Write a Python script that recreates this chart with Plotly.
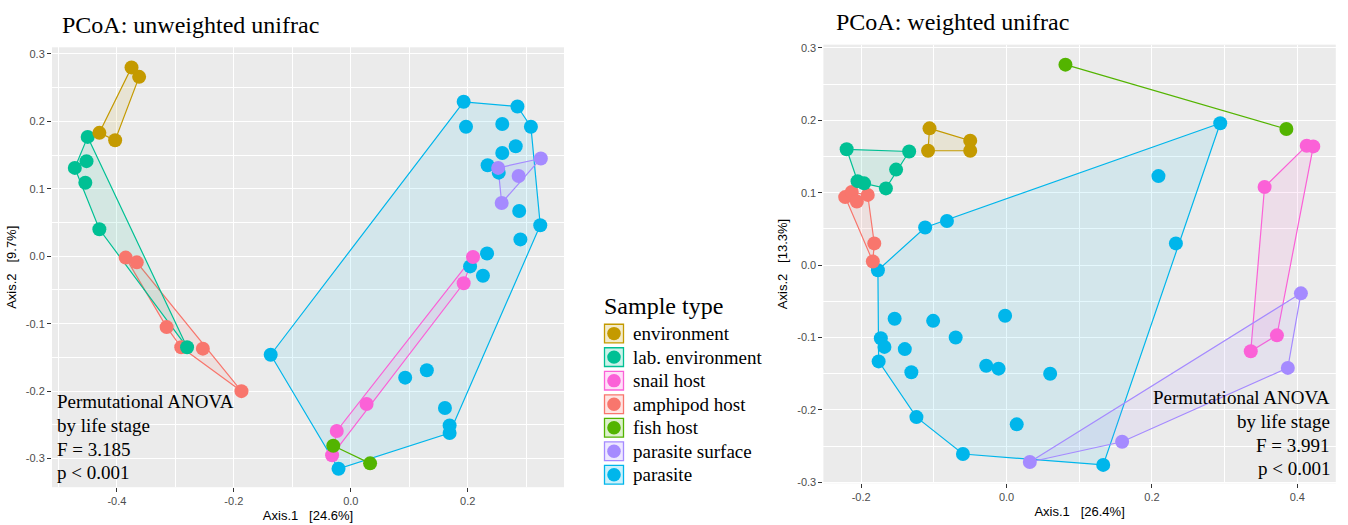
import plotly.graph_objects as go

W, H = 1348, 525

groups = ["environment", "lab. environment", "snail host", "amphipod host",
          "fish host", "parasite surface", "parasite"]
group_colors = ["#C49A00", "#00C094", "#FB61D7", "#F8766D", "#53B400", "#A58AFF", "#00B6EB"]

# ---------------- unweighted unifrac (left panel) ----------------
uw_env_x = [-0.375, -0.362, -0.430, -0.403]
uw_env_y = [0.280, 0.266, 0.183, 0.172]
uw_lab_x = [-0.450, -0.472, -0.452, -0.454, -0.430, -0.280]
uw_lab_y = [0.177, 0.131, 0.141, 0.109, 0.040, -0.135]
uw_snail_x = [0.209, 0.193, 0.027, -0.024, -0.032]
uw_snail_y = [-0.001, -0.040, -0.219, -0.259, -0.295]
uw_amph_x = [-0.385, -0.366, -0.315, -0.290, -0.253, -0.187]
uw_amph_y = [-0.002, -0.009, -0.105, -0.135, -0.137, -0.200]
uw_fish_x = [-0.030, 0.033]
uw_fish_y = [-0.281, -0.307]
uw_surf_x = [0.252, 0.325, 0.287, 0.258]
uw_surf_y = [0.131, 0.145, 0.119, 0.079]
uw_par_x = [0.193, 0.285, 0.197, 0.259, 0.308, 0.282, 0.259, 0.234, 0.253, 0.288,
            0.324, 0.290, 0.233, 0.204, 0.226, -0.137, 0.093, 0.130, 0.161, 0.169,
            0.169, -0.021]
uw_par_y = [0.229, 0.222, 0.192, 0.196, 0.192, 0.163, 0.153, 0.135, 0.124, 0.067,
            0.046, 0.025, 0.004, -0.015, -0.029, -0.146, -0.180, -0.169, -0.225, -0.251,
            -0.262, -0.315]

# ---------------- weighted unifrac (right panel) ----------------
w_env_x = [-0.106, -0.108, -0.050, -0.050]
w_env_y = [0.189, 0.158, 0.172, 0.158]
w_lab_x = [-0.220, -0.134, -0.152, -0.166, -0.205, -0.196]
w_lab_y = [0.160, 0.157, 0.132, 0.106, 0.116, 0.113]
w_snail_x = [0.413, 0.422, 0.355, 0.336, 0.372]
w_snail_y = [0.165, 0.164, 0.108, -0.119, -0.097]
w_amph_x = [-0.222, -0.213, -0.206, -0.191, -0.182, -0.184]
w_amph_y = [0.094, 0.101, 0.088, 0.097, 0.030, 0.005]
w_fish_x = [0.081, 0.385]
w_fish_y = [0.277, 0.188]
w_surf_x = [0.405, 0.387, 0.159, 0.032]
w_surf_y = [-0.039, -0.142, -0.244, -0.272]
w_par_x = [0.294, 0.209, -0.112, -0.082, 0.233, -0.177, -0.154, -0.101, -0.002, -0.070,
           -0.173, -0.168, -0.140, -0.176, -0.131, -0.028, -0.011, 0.060, -0.124, 0.014,
           -0.060, 0.133]
w_par_y = [0.196, 0.123, 0.052, 0.061, 0.030, -0.007, -0.074, -0.077, -0.070, -0.100,
           -0.101, -0.113, -0.116, -0.133, -0.148, -0.139, -0.143, -0.150, -0.210, -0.220,
           -0.261, -0.276]

uw_data = [(uw_env_x, uw_env_y), (uw_lab_x, uw_lab_y), (uw_snail_x, uw_snail_y),
           (uw_amph_x, uw_amph_y), (uw_fish_x, uw_fish_y), (uw_surf_x, uw_surf_y),
           (uw_par_x, uw_par_y)]
w_data = [(w_env_x, w_env_y), (w_lab_x, w_lab_y), (w_snail_x, w_snail_y),
          (w_amph_x, w_amph_y), (w_fish_x, w_fish_y), (w_surf_x, w_surf_y),
          (w_par_x, w_par_y)]

# axis ticks
uw_xticks = [-0.4, -0.2, 0.0, 0.2]
uw_xticktext = ["-0.4", "-0.2", "0.0", "0.2"]
w_xticks = [-0.2, 0.0, 0.2, 0.4]
w_xticktext = ["-0.2", "0.0", "0.2", "0.4"]
yticks = [-0.3, -0.2, -0.1, 0.0, 0.1, 0.2, 0.3]
yticktext = ["-0.3", "-0.2", "-0.1", "0.0", "0.1", "0.2", "0.3"]


def rgba(hexc, a):
    h = hexc.lstrip("#")
    return "rgba(%d,%d,%d,%s)" % (int(h[0:2], 16), int(h[2:4], 16), int(h[4:6], 16), a)


def convex_hull(xs, ys):
    pts = sorted(set(zip(xs, ys)))
    if len(pts) <= 2:
        return pts

    def cross(o, a, b):
        return (a[0] - o[0]) * (b[1] - o[1]) - (a[1] - o[1]) * (b[0] - o[0])

    lower = []
    for p in pts:
        while len(lower) >= 2 and cross(lower[-2], lower[-1], p) <= 0:
            lower.pop()
        lower.append(p)
    upper = []
    for p in reversed(pts):
        while len(upper) >= 2 and cross(upper[-2], upper[-1], p) <= 0:
            upper.pop()
        upper.append(p)
    return lower[:-1] + upper[:-1]


fig = go.Figure()

draw_order = [6, 3, 1, 0, 2, 4, 5]
for data, xa, ya in [(uw_data, "x", "y"), (w_data, "x2", "y2")]:
    # hulls
    for gi in draw_order:
        xs, ys = data[gi]
        hp = convex_hull(xs, ys)
        hx = [p[0] for p in hp] + [hp[0][0]]
        hy = [p[1] for p in hp] + [hp[0][1]]
        fig.add_trace(go.Scatter(
            x=hx, y=hy, mode="lines", xaxis=xa, yaxis=ya,
            fill="toself", fillcolor=rgba(group_colors[gi], 0.1),
            line=dict(color=group_colors[gi], width=1.2),
            showlegend=False, hoverinfo="skip"))
    # points
    for gi in draw_order:
        xs, ys = data[gi]
        fig.add_trace(go.Scatter(
            x=xs, y=ys, mode="markers", xaxis=xa, yaxis=ya, name=groups[gi],
            marker=dict(color=group_colors[gi], size=14, line=dict(width=0)),
            showlegend=False))

SERIF = "Liberation Serif"
SANS = "Liberation Sans"


def axis_common():
    return dict(
        showgrid=True, gridcolor="white", gridwidth=1.1,
        zeroline=False, showline=False,
        ticks="outside", ticklen=4, tickwidth=1, tickcolor="#333333",
        tickfont=dict(family=SANS, size=11, color="#4D4D4D"),
        tickmode="array",
    )


fig.update_layout(
    width=W, height=H, autosize=False,
    margin=dict(l=0, r=0, t=0, b=0),
    paper_bgcolor="white", plot_bgcolor="#EBEBEB",
    showlegend=False,
    xaxis=dict(**axis_common(), domain=[52 / W, 564 / W], range=[-0.511, 0.3646],
               tickvals=uw_xticks, ticktext=uw_xticktext,
               minor=dict(tickmode="array", tickvals=[-0.5, -0.3, -0.1, 0.1, 0.3],
                          showgrid=True, gridcolor="white", gridwidth=0.5, ticks=""),
               title=dict(text="Axis.1\u00a0\u00a0\u00a0[24.6%]", standoff=4,
                          font=dict(family=SANS, size=13, color="black"))),
    yaxis=dict(**axis_common(), domain=[1 - 491.7 / H, 1 - 45 / H], range=[-0.3424, 0.3098],
               tickvals=yticks, ticktext=yticktext,
               minor=dict(tickmode="array", tickvals=[-0.25, -0.15, -0.05, 0.05, 0.15, 0.25],
                          showgrid=True, gridcolor="white", gridwidth=0.5, ticks=""),
               title=dict(text="Axis.2\u00a0\u00a0\u00a0[9.7%]", standoff=6,
                          font=dict(family=SANS, size=13, color="black"))),
    xaxis2=dict(**axis_common(), domain=[823.4 / W, 1335.8 / W], range=[-0.252, 0.453],
                anchor="y2",
                tickvals=w_xticks, ticktext=w_xticktext,
                minor=dict(tickmode="array", tickvals=[-0.1, 0.1, 0.3],
                           showgrid=True, gridcolor="white", gridwidth=0.5, ticks=""),
                title=dict(text="Axis.1\u00a0\u00a0\u00a0[26.4%]", standoff=4,
                           font=dict(family=SANS, size=13, color="black"))),
    yaxis2=dict(**axis_common(), domain=[1 - 487.7 / H, 1 - 42.3 / H], range=[-0.3014, 0.3046],
                anchor="x2",
                tickvals=yticks, ticktext=yticktext,
                minor=dict(tickmode="array", tickvals=[-0.25, -0.15, -0.05, 0.05, 0.15, 0.25],
                           showgrid=True, gridcolor="white", gridwidth=0.5, ticks=""),
                title=dict(text="Axis.2\u00a0\u00a0\u00a0[13.3%]", standoff=6,
                           font=dict(family=SANS, size=13, color="black"))),
)

annotations = []


def ann(text, xpx, ypx, size, xanchor="left", family=SERIF):
    annotations.append(dict(
        text=text, x=xpx / W, y=1 - ypx / H, xref="paper", yref="paper",
        xanchor=xanchor, yanchor="middle", showarrow=False,
        font=dict(family=family, size=size, color="black")))


# panel titles
ann("PCoA: unweighted unifrac", 60, 22, 24)
ann("PCoA: weighted unifrac", 834, 19, 24)

# statistics text
uw_stats = ["Permutational ANOVA", "by life stage", "F = 3.185", "p < 0.001"]
w_stats = ["Permutational ANOVA", "by life stage", "F = 3.991", "p < 0.001"]
for i, t in enumerate(uw_stats):
    ann(t, 55, 405 + 24 * i, 19)
for i, t in enumerate(w_stats):
    ann(t, 1332, 401 + 24 * i, 19, xanchor="right")

# custom legend
ann("Sample type", 602, 308, 24)
shapes = []
for i, (g, c) in enumerate(zip(groups, group_colors)):
    yc = 335.7 + 23.9 * i
    shapes.append(dict(type="rect", xref="paper", yref="paper",
                       x0=604.5 / W, x1=623.5 / W, y0=1 - (yc + 9.5) / H, y1=1 - (yc - 9.5) / H,
                       line=dict(color=c, width=1.3), fillcolor=rgba(c, 0.2)))
    shapes.append(dict(type="circle", xref="paper", yref="paper",
                       x0=(614 - 6.8) / W, x1=(614 + 6.8) / W,
                       y0=1 - (yc + 6.8) / H, y1=1 - (yc - 6.8) / H,
                       line=dict(width=0), fillcolor=c))
    ann(g, 631, yc, 19)

fig.update_layout(annotations=annotations, shapes=shapes)

fig.write_html("out.html")
